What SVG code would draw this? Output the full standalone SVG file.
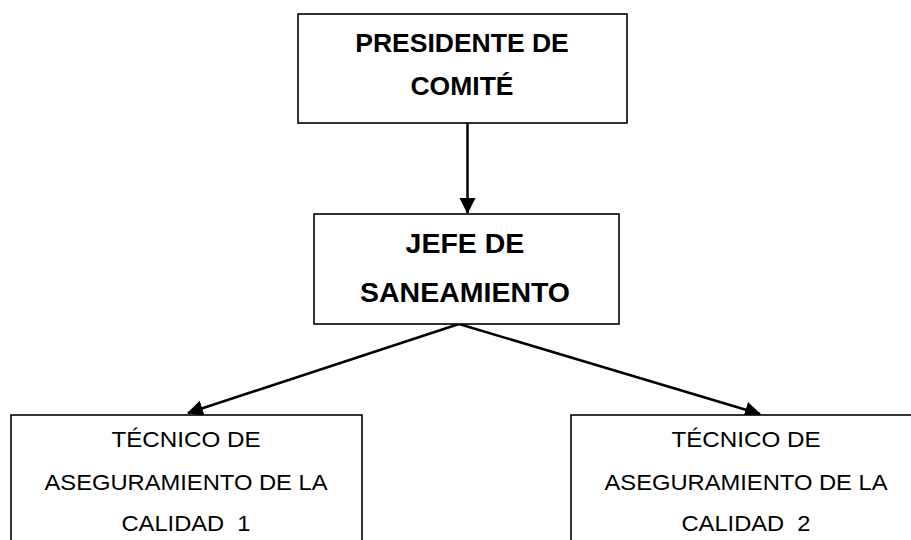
<svg xmlns="http://www.w3.org/2000/svg" width="911" height="540" viewBox="0 0 911 540">
  <style>
    .box { fill: #ffffff; stroke: #000000; stroke-width: 1.6; }
    .bold { font-family: "Liberation Sans", Arial, sans-serif; font-weight: bold; fill: #000000; text-anchor: middle; }
    .reg { font-family: "Liberation Sans", Arial, sans-serif; font-size: 22.5px; fill: #000000; text-anchor: middle; white-space: pre; }
    .conn { stroke: #000000; stroke-width: 2.5; fill: none; }
  </style>
  <defs>
    <marker id="arrow" markerUnits="userSpaceOnUse" markerWidth="16" markerHeight="18" viewBox="0 0 16 18" refX="15" refY="9" orient="auto">
      <path d="M0,1 L16,9 L0,17 Z" fill="#000000"/>
    </marker>
  </defs>
  <rect width="911" height="540" fill="#ffffff"/>

  <g id="connectors">
    <line class="conn" x1="467.5" y1="123" x2="467.5" y2="213" marker-end="url(#arrow)"/>
    <line class="conn" x1="459" y1="324" x2="188" y2="413" marker-end="url(#arrow)"/>
    <line class="conn" x1="459" y1="324" x2="760" y2="414" marker-end="url(#arrow)"/>
  </g>

  <g id="presidente">
    <rect class="box" x="298" y="14" width="329" height="109"/>
    <text class="bold" x="462" y="51.5" font-size="26.5">PRESIDENTE DE</text>
    <text class="bold" x="462" y="94.5" font-size="26.5">COMITÉ</text>
  </g>

  <g id="jefe">
    <rect class="box" x="314" y="214" width="305" height="110"/>
    <text class="bold" x="465" y="253" font-size="28.5">JEFE DE</text>
    <text class="bold" x="465" y="301.5" font-size="28.5">SANEAMIENTO</text>
  </g>

  <g id="tecnico1">
    <rect class="box" x="11" y="415" width="351" height="145"/>
    <text class="reg" x="186" y="446.7" textLength="149" lengthAdjust="spacingAndGlyphs">TÉCNICO DE</text>
    <text class="reg" x="186" y="490" textLength="283" lengthAdjust="spacingAndGlyphs">ASEGURAMIENTO DE LA</text>
    <text class="reg" x="186" y="531" textLength="129" lengthAdjust="spacingAndGlyphs">CALIDAD  1</text>
  </g>

  <g id="tecnico2">
    <rect class="box" x="571" y="415" width="354" height="145"/>
    <text class="reg" x="746" y="446.7" textLength="149" lengthAdjust="spacingAndGlyphs">TÉCNICO DE</text>
    <text class="reg" x="746" y="490" textLength="283" lengthAdjust="spacingAndGlyphs">ASEGURAMIENTO DE LA</text>
    <text class="reg" x="746" y="531" textLength="129" lengthAdjust="spacingAndGlyphs">CALIDAD  2</text>
  </g>
</svg>
